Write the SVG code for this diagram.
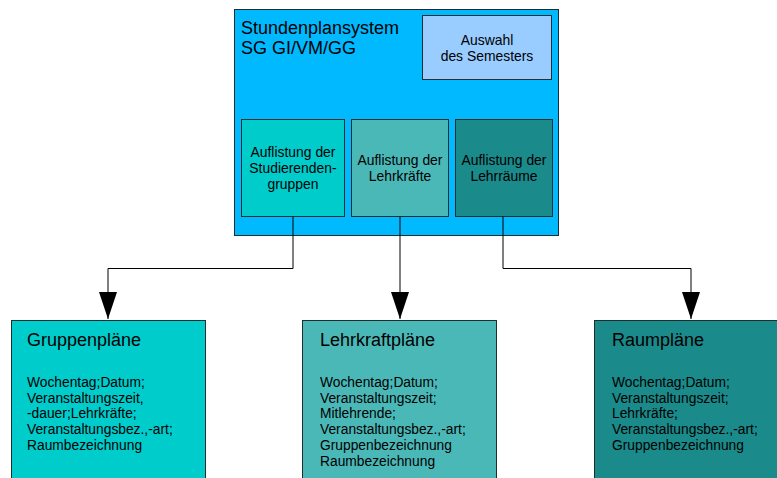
<svg xmlns="http://www.w3.org/2000/svg" width="777" height="478" viewBox="0 0 777 478">
  <style>
    text { font-family: "Liberation Sans", Arial, sans-serif; fill: #000; }
    .box { stroke: #1e2e2e; stroke-width: 1; }
    .title { font-size: 18px; }
    .lbl { font-size: 13.9px; }
    .body { font-size: 13.8px; }
    .wire { fill: none; stroke: #000; stroke-width: 1; }
  </style>
  <defs>
    <!-- solid triangular head, drawn pointing along +x -->
    <marker id="arrow" markerUnits="userSpaceOnUse" markerWidth="28" markerHeight="20" refX="27" refY="9" orient="auto" viewBox="0 0 28 18">
      <path d="M0,0 L27,9 L0,18 Z" fill="#000"/>
    </marker>
  </defs>
  <rect width="777" height="478" fill="#fff"/>

  <!-- main system -->
  <g id="system">
    <rect class="box" x="234.5" y="9.5" width="324" height="226" fill="#00b9ff"/>
    <text class="title" x="241" y="34">Stundenplansystem</text>
    <text class="title" x="241" y="54">SG GI/VM/GG</text>
  </g>

  <g id="semester">
    <rect class="box" x="422.5" y="15.5" width="129" height="64" fill="#99ccff"/>
    <text class="lbl" x="487" y="45" text-anchor="middle">Auswahl</text>
    <text class="lbl" x="487" y="61" text-anchor="middle">des Semesters</text>
  </g>

  <g id="list-groups">
    <rect class="box" x="241.5" y="119.5" width="103" height="97" fill="#00cccc"/>
    <text class="lbl" x="293" y="157" text-anchor="middle">Auflistung der</text>
    <text class="lbl" x="293" y="173" text-anchor="middle">Studierenden-</text>
    <text class="lbl" x="293" y="189" text-anchor="middle">gruppen</text>
  </g>

  <g id="list-teachers">
    <rect class="box" x="351.5" y="119.5" width="97" height="97" fill="#4bb8b8"/>
    <text class="lbl" x="400" y="165" text-anchor="middle">Auflistung der</text>
    <text class="lbl" x="400" y="181" text-anchor="middle">Lehrkräfte</text>
  </g>

  <g id="list-rooms">
    <rect class="box" x="455.5" y="119.5" width="97" height="97" fill="#1b8a8a"/>
    <text class="lbl" x="504" y="165" text-anchor="middle">Auflistung der</text>
    <text class="lbl" x="504" y="181" text-anchor="middle">Lehrräume</text>
  </g>

  <!-- connectors -->
  <g id="connectors">
    <path class="wire" d="M293,217 V268.5 H108 V319" marker-end="url(#arrow)"/>
    <path class="wire" d="M400,217 V319" marker-end="url(#arrow)"/>
    <path class="wire" d="M503,217 V268.5 H691 V319" marker-end="url(#arrow)"/>
  </g>

  <!-- output plans -->
  <g id="group-plans">
    <rect class="box" x="11.5" y="320.5" width="194" height="170" fill="#00cccc"/>
    <text class="title" x="27" y="346">Gruppenpläne</text>
    <text class="body" x="27" y="387">Wochentag;Datum;</text>
    <text class="body" x="27" y="403">Veranstaltungszeit,</text>
    <text class="body" x="27" y="418">-dauer;Lehrkräfte;</text>
    <text class="body" x="27" y="434">Veranstaltungsbez.,-art;</text>
    <text class="body" x="27" y="450">Raumbezeichnung</text>
  </g>

  <g id="teacher-plans">
    <rect class="box" x="302.5" y="320.5" width="194" height="170" fill="#4bb8b8"/>
    <text class="title" x="320" y="346">Lehrkraftpläne</text>
    <text class="body" x="320" y="387">Wochentag;Datum;</text>
    <text class="body" x="320" y="403">Veranstaltungszeit;</text>
    <text class="body" x="320" y="418">Mitlehrende;</text>
    <text class="body" x="320" y="434">Veranstaltungsbez.,-art;</text>
    <text class="body" x="320" y="450">Gruppenbezeichnung</text>
    <text class="body" x="320" y="466">Raumbezeichnung</text>
  </g>

  <g id="room-plans">
    <rect class="box" x="594.5" y="320.5" width="194" height="170" fill="#1b8a8a"/>
    <text class="title" x="612" y="346">Raumpläne</text>
    <text class="body" x="612" y="387">Wochentag;Datum;</text>
    <text class="body" x="612" y="403">Veranstaltungszeit;</text>
    <text class="body" x="612" y="418">Lehrkräfte;</text>
    <text class="body" x="612" y="434">Veranstaltungsbez.,-art;</text>
    <text class="body" x="612" y="450">Gruppenbezeichnung</text>
  </g>
</svg>
